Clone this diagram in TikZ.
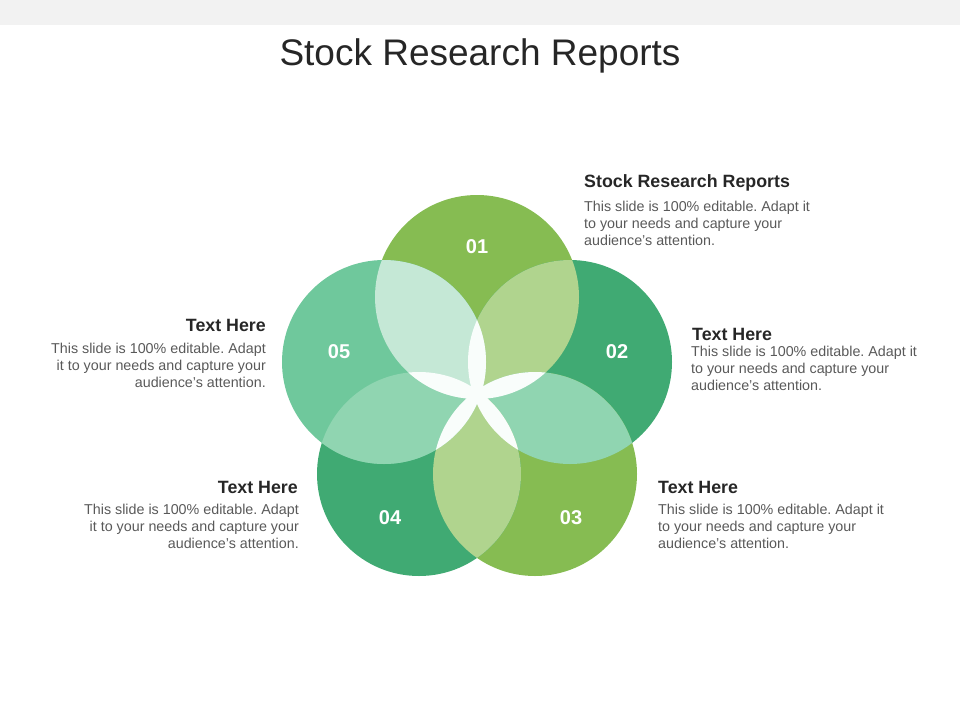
\documentclass[tikz,border=0pt]{standalone}
\usepackage{fontspec}
\setmainfont{Liberation Sans}
\frenchspacing
\usetikzlibrary{positioning}
\definecolor{lgreen}{HTML}{86BC52}
\definecolor{dgreen}{HTML}{40AA73}
\definecolor{mgreen}{HTML}{6FC89C}
\definecolor{ovA}{HTML}{B0D48E}
\definecolor{ovB}{HTML}{90D5B1}
\definecolor{ovC}{HTML}{C5E8D6}
\definecolor{bodygray}{HTML}{595959}
\begin{document}
\begin{tikzpicture}[x=1pt,y=-1pt,
  every node/.style={inner sep=0pt},
  num/.style={text=white, font=\fontsize{20}{24}\selectfont\bfseries},
  head/.style={font=\fontsize{17.8}{20}\selectfont\bfseries, text=black!85},
  body/.style={font=\fontsize{14.3}{17}\selectfont, text=bodygray}
]
\useasboundingbox (0,0) rectangle (960,720);
\fill[black!5] (0,0) rectangle (960,25);
\node[font=\fontsize{37}{42}\selectfont, text=black!85] (title) at (480,56) {Stock Research Reports};

% circles
\def\rad{102}
\coordinate (c1) at (477,297);
\coordinate (c2) at (570,362);
\coordinate (c3) at (535,474);
\coordinate (c4) at (419,474);
\coordinate (c5) at (384,362);
\fill[lgreen] (c1) circle (\rad);
\fill[dgreen] (c2) circle (\rad);
\fill[lgreen] (c3) circle (\rad);
\fill[dgreen] (c4) circle (\rad);
\fill[mgreen] (c5) circle (\rad);

% overlaps of neighbours
\foreach \a/\b/\col in {c1/c2/ovA, c2/c3/ovB, c3/c4/ovA, c4/c5/ovB, c5/c1/ovC}{
  \begin{scope}
    \clip (\a) circle (\rad);
    \fill[\col] (\b) circle (\rad);
  \end{scope}
}
% petals
\foreach \a/\b in {c1/c3, c2/c4, c3/c5, c4/c1, c5/c2}{
  \begin{scope}
    \clip (\a) circle (\rad);
    \fill[white!96!mgreen] (\b) circle (\rad);
  \end{scope}
}

\node[num] (n1) at (477,247) {01};
\node[num] (n2) at (617,352) {02};
\node[num] (n3) at (571,518) {03};
\node[num] (n4) at (390,518) {04};
\node[num] (n5) at (339,352) {05};

% texts
\node[head, anchor=west] (h1) at (584,183) {Stock Research Reports};
\node[body, anchor=north west, align=left] (b1) at (584,201) {This slide is 100\% editable. Adapt it\\to your needs and capture your\\audience's attention.};
\node[head, anchor=west] (h2) at (692,334) {Text Here};
\node[body, anchor=north west, align=left] (b2) at (691,346) {This slide is 100\% editable. Adapt it\\to your needs and capture your\\audience's attention.};
\node[head, anchor=west] (h3) at (658,487) {Text Here};
\node[body, anchor=north west, align=left] (b3) at (658,504) {This slide is 100\% editable. Adapt it\\to your needs and capture your\\audience's attention.};
\node[head, anchor=east] (h4) at (298,487) {Text Here};
\node[body, anchor=north east, align=right] (b4) at (299,504) {This slide is 100\% editable. Adapt\\it to your needs and capture your\\audience's attention.};
\node[head, anchor=east] (h5) at (266,325) {Text Here};
\node[body, anchor=north east, align=right] (b5) at (266,343) {This slide is 100\% editable. Adapt\\it to your needs and capture your\\audience's attention.};
\end{tikzpicture}
\end{document}
